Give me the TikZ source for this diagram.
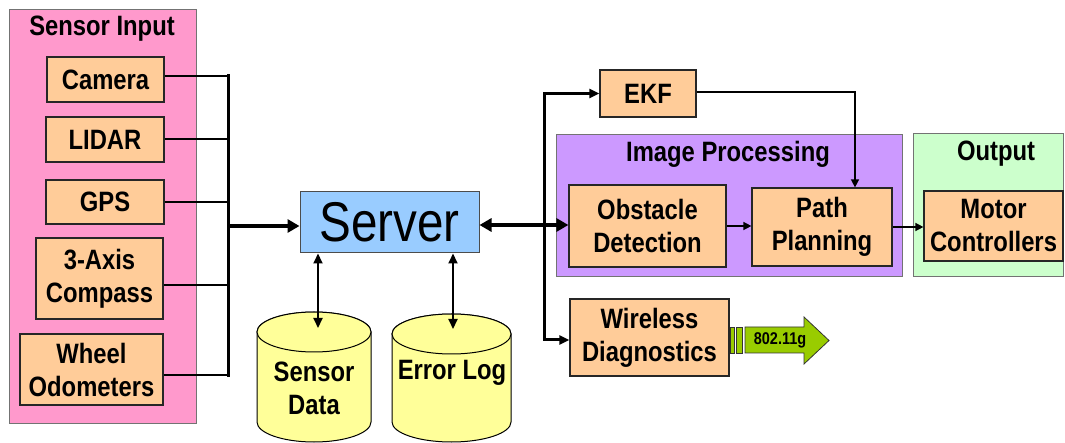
\documentclass[tikz,border=0pt]{standalone}
\usepackage{fontspec}
\setmainfont{Liberation Sans}[FakeStretch=0.85]
\usetikzlibrary{arrows.meta,calc}

\definecolor{sensorpink}{HTML}{FF99CC}
\definecolor{unitorange}{HTML}{FFCC99}
\definecolor{serverblue}{HTML}{99CCFF}
\definecolor{imglav}{HTML}{CC99FF}
\definecolor{outgreen}{HTML}{CCFFCC}
\definecolor{dbyellow}{HTML}{FFFF99}
\definecolor{wifigreen}{HTML}{99CC00}

\newcommand{\lblfont}{\bfseries\fontsize{28}{33}\selectfont}

\tikzset{
  group/.style={draw=black!55, line width=1pt, inner sep=0pt},
  unit/.style={draw=black!85, fill=unitorange, line width=1.2pt, inner sep=0pt,
               align=center, font=\lblfont},
  grouptitle/.style={font=\lblfont, inner sep=0pt, anchor=base},
  bigtip/.tip={Triangle[length=12pt,width=13pt]},
  midtip/.tip={Triangle[length=10pt,width=9pt]},
  smalltip/.tip={Triangle[length=8pt,width=8pt]},
  feed/.style={draw=black, line width=1.6pt},
  busline/.style={draw=black, line width=3pt},
  heavy/.style={draw=black, line width=4pt},
  link/.style={draw=black, line width=1.4pt},
  dbase/.style={draw=black, fill=dbyellow, line width=1pt},
  dbtext/.style={font=\lblfont, align=center, inner sep=0pt}
}

\begin{document}
\begin{tikzpicture}[x=1pt, y=-1pt, line join=miter]
\useasboundingbox (0,0) rectangle (1065,443);

% ---- containers ----
\node[group, fill=sensorpink, minimum width=187pt, minimum height=413pt] (sensors) at (102.5,216.5) {};
\node[grouptitle] (sensorsT) at (102,36) {Sensor Input};
\node[group, fill=imglav, minimum width=346pt, minimum height=142pt] (imgproc) at (729,206) {};
\node[grouptitle] (imgprocT) at (728,162) {Image Processing};
\node[group, fill=outgreen, minimum width=150pt, minimum height=143pt] (outgrp) at (988,205.5) {};
\node[grouptitle] (outgrpT) at (996,161) {Output};

% ---- sensor units ----
\node[unit, minimum width=117pt, minimum height=45pt] (cam) at (105.5,79.5) {Camera};
\node[unit, minimum width=118pt, minimum height=45pt] (lidar) at (105,139.5) {LIDAR};
\node[unit, minimum width=118pt, minimum height=44pt] (gps) at (105,202) {GPS};
\node[unit, minimum width=127pt, minimum height=81pt] (compass) at (99.5,278.5) {3-Axis\\Compass};
\node[unit, minimum width=143pt, minimum height=71pt] (wheel) at (91.5,369.5) {Wheel\\Odometers};

% ---- server ----
\node[draw=black!70, fill=serverblue, line width=1pt, minimum width=179pt, minimum height=61pt,
      inner sep=0pt, font=\fontsize{56}{60}\selectfont] (server) at (389.5,222.5) {Server};

% ---- processing units ----
\node[unit, minimum width=96pt, minimum height=47pt] (ekf) at (648,93.5) {EKF};
\node[unit, minimum width=157pt, minimum height=82pt] (obst) at (647.5,226) {Obstacle\\Detection};
\node[unit, minimum width=140pt, minimum height=78pt] (path) at (822,227) {Path\\Planning};
\node[unit, minimum width=139pt, minimum height=70pt] (motor) at (993.5,226) {Motor\\Controllers};
\node[unit, minimum width=159pt, minimum height=77pt] (wless) at (649.5,337.5) {Wireless\\Diagnostics};

% ---- databases ----
\path[dbase] (257,332) -- (257,422) arc[start angle=180, end angle=0, x radius=57, y radius=20]
  -- (371,332) arc[start angle=0, end angle=-180, x radius=57, y radius=20] -- cycle;
\draw[dbase] (314,332) ellipse[x radius=57, y radius=20];
\node[dbtext] (sdata) at (314,388) {Sensor\\Data};
\coordinate (sdtop) at (318,328);

\path[dbase] (392,334) -- (392,422) arc[start angle=180, end angle=0, x radius=59.5, y radius=20]
  -- (511,334) arc[start angle=0, end angle=-180, x radius=59.5, y radius=20] -- cycle;
\draw[dbase] (451.5,334) ellipse[x radius=59.5, y radius=20];
\node[dbtext] (elog) at (452,373) {Error Log};
\coordinate (eltop) at (453,329);

% ---- wireless link arrow ----
\filldraw[fill=wifigreen, draw=black!80, line width=0.8pt]
  (745,327) -- (804,327) -- (804,317) -- (829,340.5) -- (804,364) -- (804,353) -- (745,353) -- cycle;
\filldraw[fill=wifigreen, draw=black!80, line width=0.8pt] (730,327) rectangle (734,353);
\filldraw[fill=wifigreen, draw=black!80, line width=0.8pt] (736.5,327) rectangle (742.5,353);
\node[font=\bfseries\fontsize{17}{20}\selectfont, inner sep=0pt] (wifi) at (780,340) {802.11g};

% ---- sensor bus ----
\coordinate (lbus) at (228,226);
\draw[feed] (cam.east |- 0,76) -- (lbus |- 0,76);
\draw[feed] (lidar.east |- 0,139) -- (lbus |- 0,139);
\draw[feed] (gps.east) -- (gps.east -| lbus);
\draw[feed] (compass.east |- 0,285) -- (lbus |- 0,285);
\draw[feed] (wheel.east |- 0,375) -- (lbus |- 0,375);
\draw[busline, line cap=rect] (lbus |- 0,76) -- (lbus |- 0,375);
\draw[heavy, -{bigtip}] (lbus) -- (lbus -| server.west);

% ---- server links ----
\coordinate (rbus) at (544,225);
\draw[heavy, {bigtip}-{bigtip}] (rbus -| server.east) -- (rbus -| obst.west);
\draw[busline, {midtip}-{midtip}] (ekf.west) -- (ekf.west -| rbus) -- (rbus |- 0,340) -- (wless.west |- 0,340);
\draw[link, line width=2pt, {midtip}-{midtip}] (server.south -| sdtop) -- (sdtop);
\draw[link, line width=2pt, {midtip}-{midtip}] (server.south -| eltop) -- (eltop);

% ---- processing chain ----
\draw[link, -{smalltip}] (ekf.east |- 0,92) -| ($(path.north)+(33,0)$);
\draw[link, -{smalltip}] (obst.east) -- (obst.east -| path.west);
\draw[link, -{smalltip}] (path.east) -- (path.east -| motor.west);

\end{tikzpicture}
\end{document}
